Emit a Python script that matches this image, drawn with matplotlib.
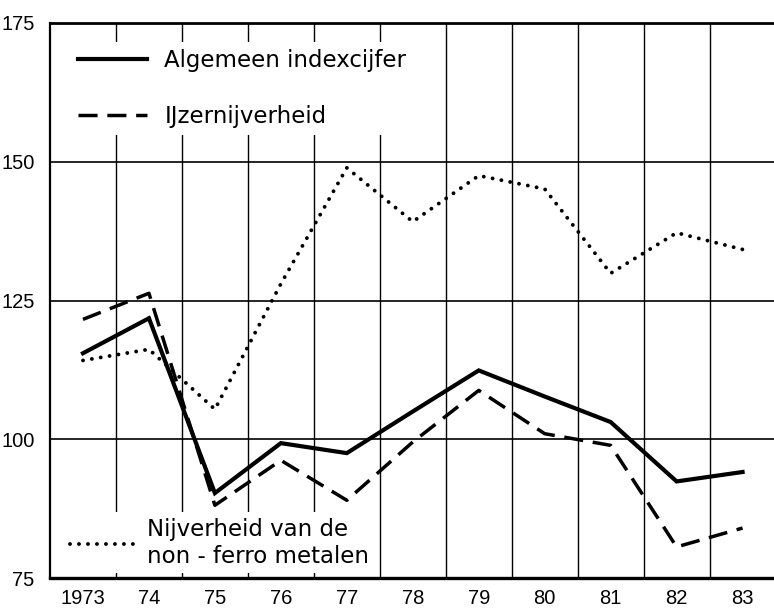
import matplotlib
matplotlib.use("Agg")
import matplotlib.pyplot as plt

# values
years = ["1973", "74", "75", "76", "77", "78", "79", "80", "81", "82", "83"]
algemeen = [115.5, 121.8, 90.3, 99.3, 97.5, 105.0, 112.4, 107.7, 103.1, 92.4, 94.1]
ijzer = [121.6, 126.3, 88.1, 96.2, 89.0, 99.5, 108.8, 101.0, 98.9, 80.6, 84.0]
nonferro = [114.2, 116.2, 105.4, 128.0, 148.9, 139.2, 147.5, 145.1, 129.9, 137.2, 134.2]
yticks = [75, 100, 125, 150, 175]

tick_font = "Liberation Sans"
label_font = "DejaVu Sans"

fig = plt.figure(figsize=(7.74, 6.10), dpi=100)
ax = fig.add_axes([50 / 774, 1 - 578 / 610, 1 - 50 / 774 + 0.002, (578 - 23) / 610])

x = list(range(len(years)))

# grid: horizontal at the y ticks, vertical between the years
for v in yticks[1:-1]:
    ax.axhline(v, color="black", lw=1.2, zorder=1)
for i in x[:-1]:
    ax.axvline(i + 0.5, color="black", lw=1.0, zorder=1)

l1, = ax.plot(x, algemeen, color="black", lw=3.0, solid_joinstyle="miter", zorder=3)
l2, = ax.plot(x, ijzer, color="black", lw=2.5, dashes=(5.5, 2.8), zorder=3)
l3, = ax.plot(x, nonferro, color="black", lw=2.8, linestyle=(0, (0.01, 2.3)),
              dash_capstyle="round", zorder=3)

ax.set_xlim(-0.5, 10.5)
ax.set_ylim(75, 175)
ax.set_xticks(x)
ax.set_xticklabels(years)
ax.set_yticks(yticks)
ax.tick_params(length=0, labelsize=14.5)
ax.tick_params(axis="x", pad=8)
ax.tick_params(axis="y", pad=11)
for lab in ax.get_xticklabels() + ax.get_yticklabels():
    lab.set_family(tick_font)

ax.spines["right"].set_visible(False)
ax.spines["bottom"].set_linewidth(2.4)
ax.spines["top"].set_linewidth(2.0)
ax.spines["left"].set_linewidth(1.6)

leg1 = ax.legend([l1, l2], ["Algemeen indexcijfer", "IJzernijverheid"],
                 loc="upper left", bbox_to_anchor=(0.014, 0.987),
                 prop={"family": label_font, "size": 16.5},
                 handlelength=3.0, handletextpad=0.75, labelspacing=1.45,
                 frameon=True, facecolor="white", edgecolor="none", framealpha=1,
                 borderpad=0.3, fancybox=False)
leg1.set_zorder(5)
ax.add_artist(leg1)

leg2 = ax.legend([l3], ["Nijverheid van de\nnon - ferro metalen"],
                 loc="lower left", bbox_to_anchor=(0.0137, 0.0),
                 prop={"family": label_font, "size": 16.5},
                 handlelength=2.9, handletextpad=0.45, borderaxespad=0.2,
                 frameon=True, facecolor="white", edgecolor="none", framealpha=1,
                 borderpad=0.25, fancybox=False)
leg2.set_zorder(5)

fig.savefig("out.png", dpi=100)
